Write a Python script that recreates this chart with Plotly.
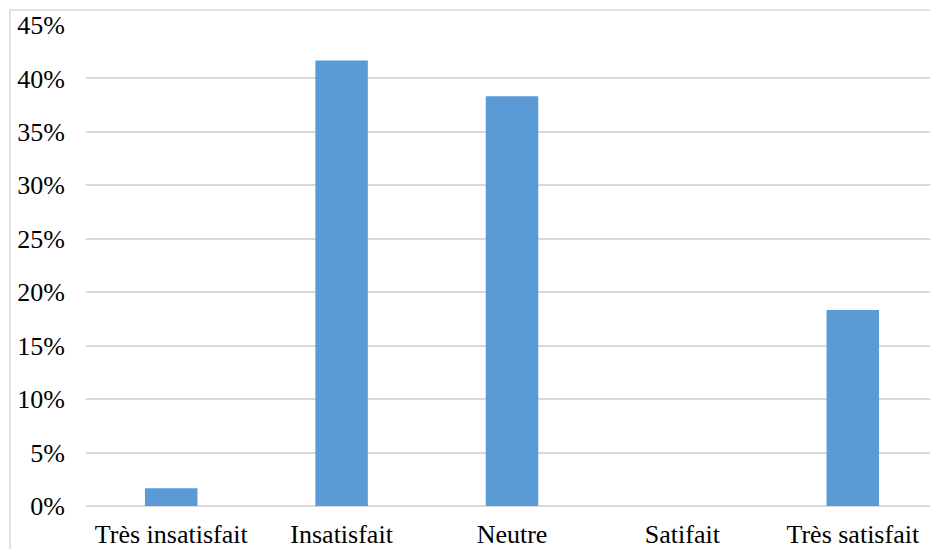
import plotly.graph_objects as go

categories = ["Très insatisfait", "Insatisfait", "Neutre", "Satifait", "Très satisfait"]
values = [1.67, 41.67, 38.33, 0.0, 18.33]
y_ticks = [0, 5, 10, 15, 20, 25, 30, 35, 40, 45]
y_tick_labels = [f"{v}%" for v in y_ticks]

W, H = 930, 549
L, R, T, B = 86, 0, 25, 43
pw, ph = W - L - R, H - T - B

fig = go.Figure(go.Bar(
    x=categories, y=values,
    marker=dict(color="#5B9BD5", line=dict(width=0)),
    width=0.308,
))

font = dict(family="Liberation Serif, Times New Roman, serif", size=26, color="#000000")

fig.update_layout(
    width=W, height=H,
    margin=dict(l=L, r=R, t=T, b=B, autoexpand=False),
    paper_bgcolor="white", plot_bgcolor="white",
    showlegend=False,
    font=font,
    xaxis=dict(
        range=[-0.5, 4.5 - 8 / 170.4],
        showgrid=False, showline=False, zeroline=False, ticks="",
        tickfont=font, ticklabelstandoff=10,
    ),
    yaxis=dict(
        range=[0, 45], tickvals=y_ticks, ticktext=y_tick_labels,
        showgrid=True, gridcolor="#D9D9D9", gridwidth=2,
        zeroline=True, zerolinecolor="#D9D9D9", zerolinewidth=2,
        showline=False, ticks="", tickfont=font, ticklabelstandoff=20,
    ),
    shapes=[dict(
        type="rect", xref="paper", yref="paper",
        x0=(10 - L) / pw, x1=1.2, y0=-0.3, y1=(H - B - 10) / ph,
        line=dict(color="#D9D9D9", width=1.5), fillcolor="rgba(0,0,0,0)",
        layer="below",
    )],
)

fig.write_html(
    "out.html",
    config={"displayModeBar": False},
    post_script="document.body.style.margin='0';document.body.style.overflow='hidden';",
)
